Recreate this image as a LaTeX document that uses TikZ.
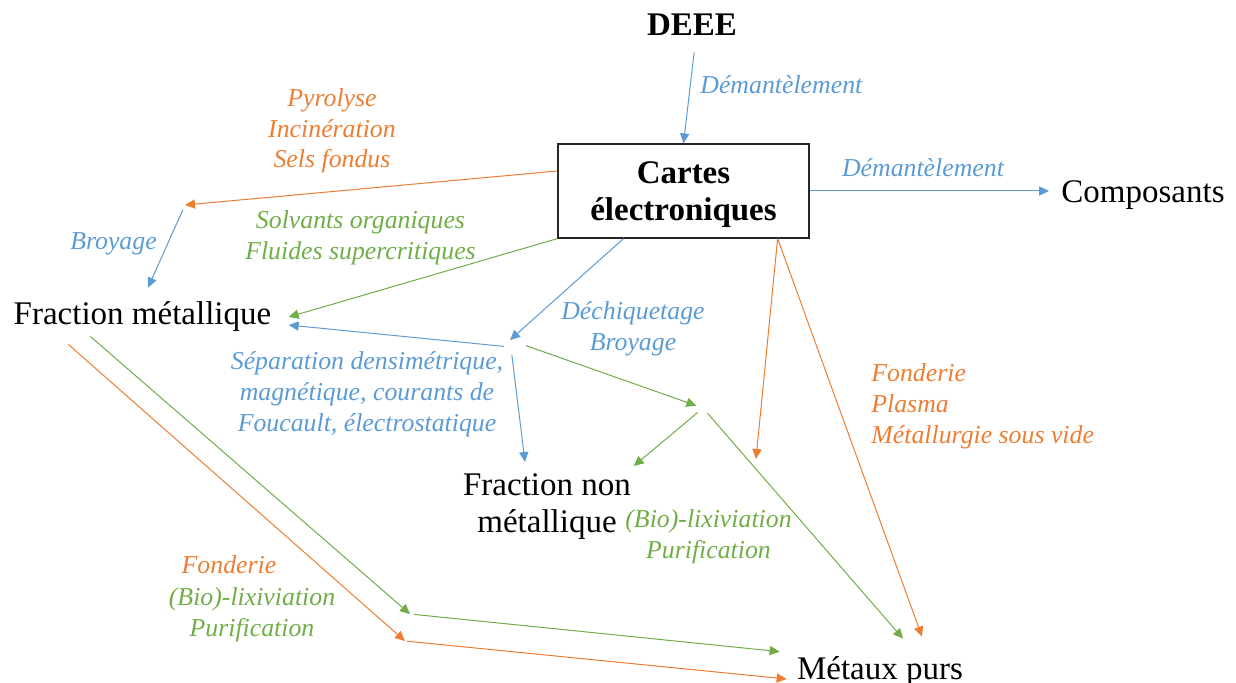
\documentclass[tikz,border=0pt]{standalone}
\usepackage{fontspec}
\setmainfont{Liberation Serif}
\usetikzlibrary{arrows.meta}
\definecolor{bleuP}{HTML}{5B9BD5}
\definecolor{orangeP}{HTML}{ED7D31}
\definecolor{vertP}{HTML}{70AD47}
\tikzset{
  fleche/.style={line width=0.5pt, -{Triangle[length=5pt,width=4.6pt]}},
  produit/.style={inner sep=0pt, font=\fontsize{16.5}{18.5}\selectfont, align=center},
  procede/.style={inner sep=0pt, font=\fontsize{12.9}{15.4}\selectfont\itshape, align=center},
}
\begin{document}
\begin{tikzpicture}[x=0.5pt,y=-0.5pt]
    \useasboundingbox (0,0) rectangle (1236,683);

    % produits
    \node[produit, font=\fontsize{16.5}{18.5}\selectfont\bfseries, anchor=base] (deee) at (692,36) {DEEE};
    \node[draw=black!85, line width=0.6pt, inner sep=0pt,
          minimum width=125.5pt, minimum height=47pt] (cartes) at (683.5,191) {};
    \node[produit, font=\fontsize{16.5}{18.5}\selectfont\bfseries] (cartesTxt) at (683.5,195) {Cartes\\électroniques};
    \node[produit, anchor=base] (compo) at (1143,203) {Composants};
    \node[produit, anchor=base] (metal) at (142.5,325) {Fraction métallique};
    \node[produit, anchor=north] (nonmetal) at (547,473) {Fraction non\\métallique};
    \node[produit, anchor=base] (metaux) at (880,679) {Métaux purs};

    % points de passage
    \coordinate (jpyro) at (185,205);
    \coordinate (jsep) at (510,340);
    \coordinate (jlix) at (703,408);
    \coordinate (jfond) at (756,459);
    \coordinate (jmet1) at (410,614);
    \coordinate (jmet2) at (405,641);

    % procedes
    \node[procede, bleuP, anchor=west] (tDem1) at (700,85) {Démantèlement};
    \node[procede, bleuP] (tDem2) at (923,168) {Démantèlement};
    \node[procede, orangeP] (tPyro) at (332,131) {Pyrolyse\\Incinération\\Sels fondus};
    \node[procede, bleuP] (tBroy1) at (113.5,244) {Broyage};
    \node[procede, vertP] (tSolv) at (360.5,238) {Solvants organiques\\Fluides supercritiques};
    \node[procede, bleuP] (tDech) at (633,329) {Déchiquetage\\Broyage};
    \node[procede, bleuP] (tSep) at (367,394) {Séparation densimétrique,\\magnétique, courants de\\Foucault, électrostatique};
    \node[procede, orangeP, anchor=west, align=left] (tFond1) at (871,406) {Fonderie\\Plasma\\Métallurgie sous vide};
    \node[procede, vertP] (tLix1) at (708.5,537) {(Bio)-lixiviation\\Purification};
    \node[procede, orangeP] (tFond2) at (229,565) {Fonderie};
    \node[procede, vertP] (tLix2) at (252,615) {(Bio)-lixiviation\\Purification};

    % fleches
    \draw[fleche, bleuP, shorten <=8pt] ([xshift=2pt]deee.south) -- (cartes.north);
    \draw[fleche, bleuP, shorten >=6pt] (cartes.east) -- (cartes.east -| compo.west);
    \draw[fleche, orangeP] ([yshift=10pt]cartes.west) -- (jpyro);
    \draw[fleche, bleuP, shorten <=2.5pt] (jpyro) -- ([xshift=2.75pt,yshift=7pt]metal.north);
    \draw[fleche, vertP] (cartes.south west) -- ([xshift=8.5pt]metal.east);
    \draw[fleche, bleuP] ([xshift=-30pt]cartes.south) -- (jsep);
    \draw[fleche, bleuP, shorten <=3pt] ([yshift=-3.5pt]jsep) -- ([xshift=8.5pt,yshift=-4pt]metal.east);
    \draw[fleche, bleuP, shorten <=7.5pt] (jsep) -- ([xshift=-11pt,yshift=5.5pt]nonmetal.north);
    \draw[fleche, vertP, shorten <=8.5pt, shorten >=3.5pt] (jsep) -- (jlix);
    \draw[fleche, vertP, shorten <=3.5pt] (jlix) -- ([xshift=1.25pt,yshift=3.5pt]nonmetal.north east);
    \draw[fleche, vertP, shorten <=3.5pt] (jlix) -- ([xshift=11.5pt,yshift=8.5pt]metaux.north);
    \draw[fleche, orangeP] ([xshift=-16pt]cartes.south east) -- (jfond);
    \draw[fleche, orangeP] ([xshift=-16pt]cartes.south east) -- ([xshift=21pt,yshift=9.5pt]metaux.north);
    \draw[fleche, vertP] ([xshift=38.5pt,yshift=-2pt]metal.south west) -- (jmet1);
    \draw[fleche, orangeP] ([xshift=27.5pt,yshift=-6pt]metal.south west) -- (jmet2);
    \draw[fleche, vertP, shorten <=2pt] (jmet1) -- ([xshift=-8.5pt,yshift=2pt]metaux.north west);
    \draw[fleche, orangeP, shorten <=1pt] (jmet2) -- ([xshift=-5pt]metaux.base west);

\end{tikzpicture}
\end{document}
